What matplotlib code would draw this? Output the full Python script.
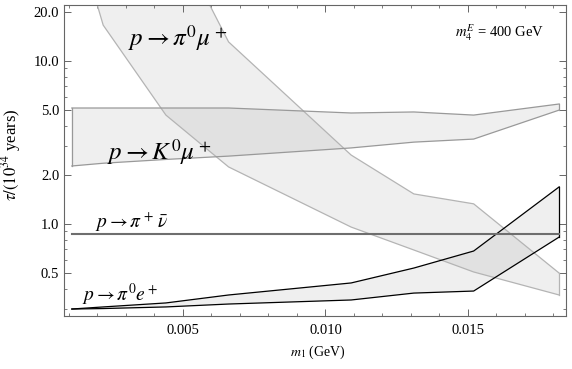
import numpy as np
import matplotlib
matplotlib.use("Agg")
import matplotlib.pyplot as plt
from matplotlib.ticker import FixedLocator, MultipleLocator, LogLocator, FormatStrFormatter, NullFormatter

plt.rcParams['font.family'] = ['Liberation Serif', 'DejaVu Serif']
plt.rcParams['mathtext.fontset'] = 'stix'

# m_1 grid (GeV)
m1 = [0.0011, 0.0022, 0.0044, 0.0066, 0.0109, 0.0131, 0.0152, 0.0182]

# p -> pi0 mu+ band
pi0mu_low = [75.0, 16.6, 4.66, 2.24, 0.958, 0.693, 0.508, 0.367]
pi0mu_high = [400.0, 200.0, 74.0, 13.1, 2.65, 1.53, 1.33, 0.50]

# p -> K0 mu+ band
k0mu_low = [2.27, 2.36, 2.49, 2.61, 2.93, 3.18, 3.32, 5.0]
k0mu_high = [5.15, 5.15, 5.15, 5.15, 4.80, 4.87, 4.66, 5.45]

# p -> pi+ nubar
pinu = 0.868

# p -> pi0 e+ band
pi0e_low = [0.301, 0.303, 0.31, 0.323, 0.342, 0.377, 0.388, 0.832]
pi0e_high = [0.301, 0.31, 0.328, 0.367, 0.435, 0.537, 0.683, 1.69]

fig = plt.figure(figsize=(5.72, 3.69), dpi=100)
ax = fig.add_axes([0.1119, 0.1436, 0.8776, 0.8428])

fill_kw = dict(facecolor=(0.5, 0.5, 0.5), alpha=0.12, linewidth=0)


def band(lo, hi, edge, lw):
    ax.fill_between(m1, lo, hi, **fill_kw)
    ax.plot(m1, lo, color=edge, lw=lw)
    ax.plot(m1, hi, color=edge, lw=lw)
    ax.plot([m1[0], m1[0]], [lo[0], hi[0]], color=edge, lw=lw)
    ax.plot([m1[-1], m1[-1]], [lo[-1], hi[-1]], color=edge, lw=lw)


band(pi0mu_low, pi0mu_high, '#b4b4b4', 0.9)
band(k0mu_low, k0mu_high, '#999999', 0.9)
band(pi0e_low, pi0e_high, 'black', 0.9)
ax.plot([m1[0], m1[-1]], [pinu, pinu], color='#6e6e6e', lw=1.5)

ax.set_yscale('log')
ax.set_xlim(0.000825, 0.01844)
ax.set_ylim(0.2727, 22.06)

ax.yaxis.set_major_locator(FixedLocator([0.5, 1.0, 2.0, 5.0, 10.0, 20.0]))
ax.yaxis.set_major_formatter(FormatStrFormatter('%.1f'))
ax.yaxis.set_minor_locator(LogLocator(base=10, subs=np.arange(2, 10)))
ax.yaxis.set_minor_formatter(NullFormatter())
ax.xaxis.set_major_locator(FixedLocator([0.005, 0.010, 0.015]))
ax.xaxis.set_major_formatter(FormatStrFormatter('%.3f'))
ax.xaxis.set_minor_locator(MultipleLocator(0.001))

ax.tick_params(which='both', direction='in', top=True, right=True, colors='#666666',
               labelcolor='black', labelsize=10.5)
ax.tick_params(which='major', length=5, width=0.7)
ax.tick_params(which='minor', length=2.5, width=0.6)
ax.tick_params(axis='x', which='major', pad=6)
for s in ax.spines.values():
    s.set_color('#666666')
    s.set_linewidth(0.8)

ax.text(0.00307, 13.8, r'$p\rightarrow\pi^0\mu^+$', fontsize=18, va='center', ha='left')
ax.text(0.00233, 2.77, r'$p\rightarrow K^0\mu^+$', fontsize=18, va='center', ha='left')
ax.text(0.00191, 1.03, r'$p\rightarrow\pi^+\,\bar{\nu}$', fontsize=14, va='center', ha='left')
ax.text(0.00146, 0.367, r'$p\rightarrow\pi^0e^+$', fontsize=14, va='center', ha='left')

ax.text(0.779, 0.91, r'$m_4^E$ = 400 GeV', transform=ax.transAxes, fontsize=10.5,
        ha='left', va='center')

ax.set_xlabel(r'$m_1$ (GeV)', fontsize=10)
ax.xaxis.set_label_coords(0.505, -0.09)
ax.set_ylabel(r'$\tau/(10^{34}$ years)', fontsize=12)
ax.yaxis.set_label_coords(-0.082, 0.518)

fig.savefig('out.png', dpi=100)
